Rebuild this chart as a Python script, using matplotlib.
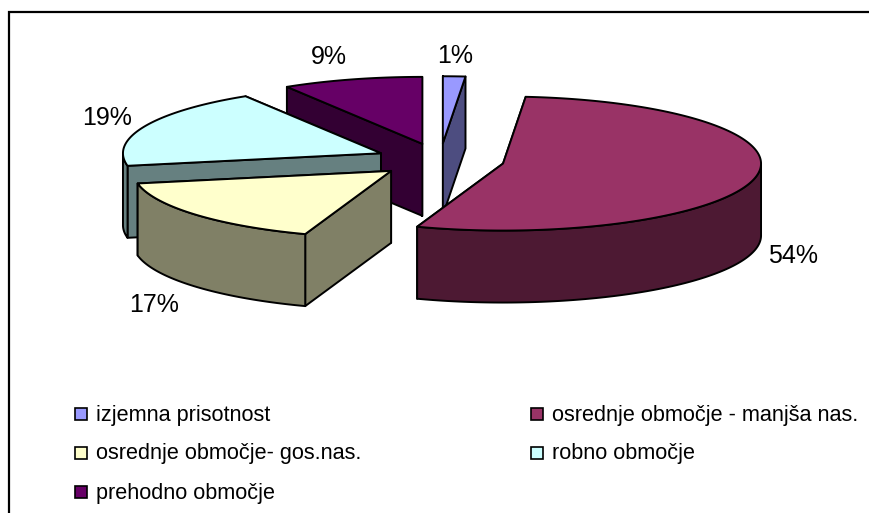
import numpy as np
import matplotlib
matplotlib.use('Agg')
import matplotlib.pyplot as plt
from matplotlib.patches import Polygon, Rectangle

plt.rcParams['font.family'] = ['Liberation Sans', 'DejaVu Sans']

# values, labels show them rounded
labels = ['izjemna prisotnost', 'osrednje območje - manjša nas.',
          'osrednje območje- gos.nas.', 'robno območje', 'prehodno območje']
values = [1.4, 54.0, 16.6, 19.2, 8.8]
colors = ['#9999FF', '#993366', '#FFFFCC', '#CCFFFF', '#660066']
sides = ['#4D4D80', '#4D1933', '#808066', '#668080', '#330033']

# pie geometry in pixels
cx, cy = 440, 160
rx, ry = 258, 67
depth = 72
explode = 0.25
draw_order = [4, 3, 0, 2, 1]
label_pos = [(455, 56), (793, 256), (154, 305), (107, 118), (329, 57)]

edges = np.cumsum([0] + values) / sum(values) * 2 * np.pi


def arc(x0, y0, a, b):
    t = np.linspace(a, b, max(int((b - a) * 60), 2))
    return np.column_stack([x0 + rx * np.sin(t), y0 - ry * np.cos(t)])


def face(ax, pts, color):
    ax.add_patch(Polygon(pts, closed=True, facecolor=color, edgecolor='black',
                         linewidth=1.4, joinstyle='round'))


fig = plt.figure(figsize=(8.69, 5.13), dpi=100)
ax = fig.add_axes([0, 0, 1, 1])
ax.set_xlim(0, 869)
ax.set_ylim(513, 0)
ax.axis('off')

# frame, only top and left are visible in the picture
ax.plot([869, 8.5, 8.5], [12, 12, 513], color='black', linewidth=1.6, solid_joinstyle='miter')

for i in draw_order:
    a, b = edges[i], edges[i + 1]
    mid = (a + b) / 2
    x0 = cx + explode * rx * np.sin(mid)
    y0 = cy - explode * ry * np.cos(mid)
    tip = np.array([[x0, y0]])
    down = np.array([0, depth])

    # cut faces first, the one further back goes under the other
    rims = [arc(x0, y0, t, t)[:1] for t in (a, b)]
    rims.sort(key=lambda r: r[0, 1])
    for rim in rims:
        face(ax, np.vstack([tip, rim, rim + down, tip + down]), sides[i])

    # outer wall, only the front half of the ellipse shows
    lo, hi = max(a, np.pi / 2), min(b, 3 * np.pi / 2)
    if lo < hi:
        wall = arc(x0, y0, lo, hi)
        face(ax, np.vstack([wall, wall[::-1] + down]), sides[i])

    # top
    face(ax, np.vstack([tip, arc(x0, y0, a, b)]), colors[i])

for v, (x, y) in zip(values, label_pos):
    ax.text(x, y, '%d%%' % round(v), fontsize=18, ha='center', va='center', color='black')

# legend
for i, name in enumerate(labels):
    col, row = i % 2, i // 2
    x = 74.5 + col * 456
    y = 414 + row * 39
    ax.add_patch(Rectangle((x, y - 6), 12, 12, facecolor=colors[i], edgecolor='black', linewidth=1.2))
    ax.text(x + 21, y + 1, name, fontsize=15.6, ha='left', va='center', color='black')

plt.savefig('out.png', dpi=100)
